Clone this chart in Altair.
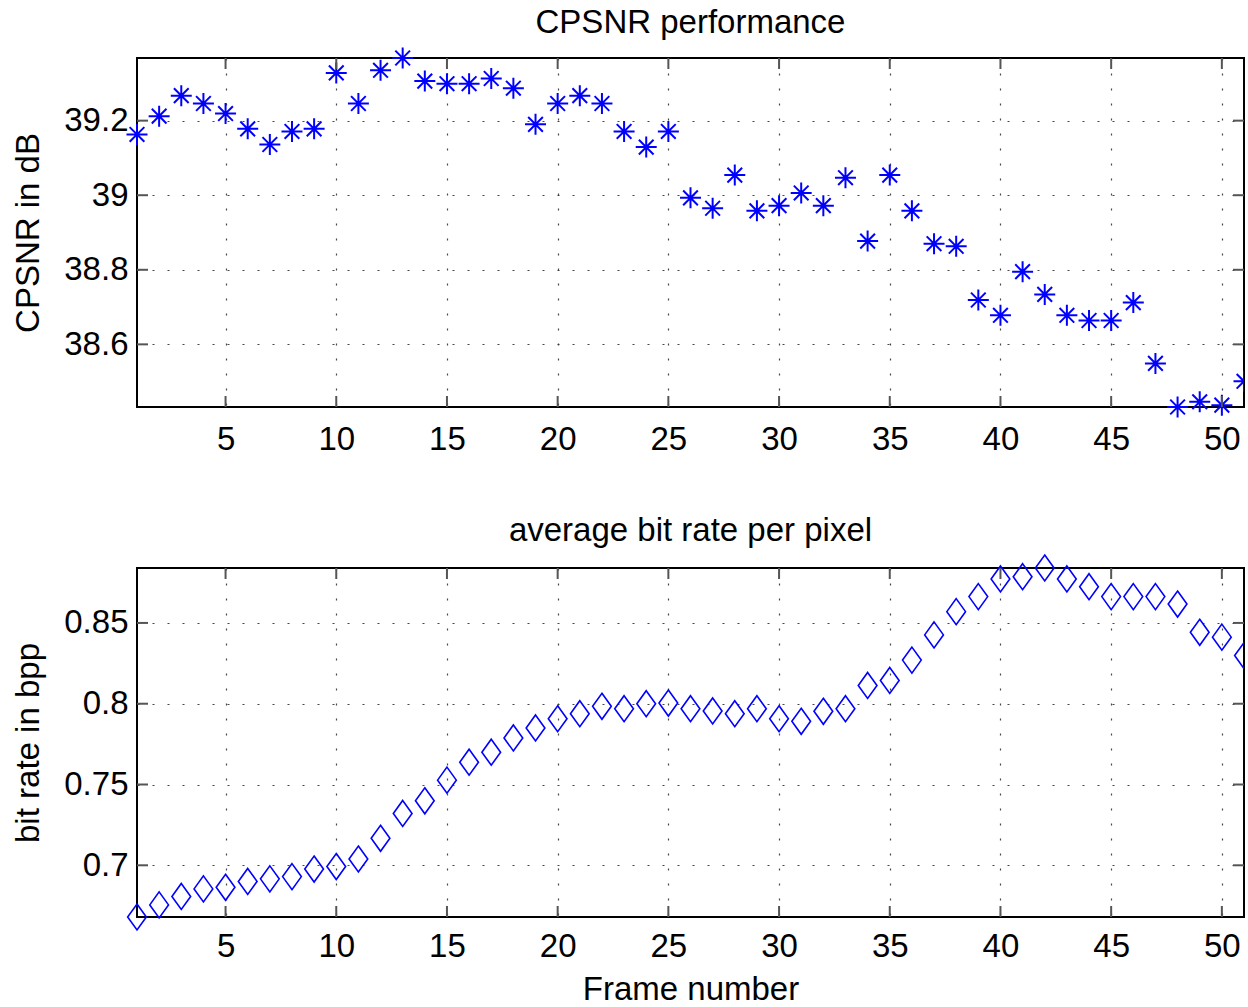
import altair as alt
import pandas as pd

frames = list(range(1, 52))
cpsnr = [39.163, 39.212, 39.267, 39.246, 39.219, 39.178, 39.136, 39.171, 39.178, 39.328,
         39.246, 39.335, 39.368, 39.306, 39.299, 39.299, 39.313, 39.287, 39.190, 39.246,
         39.267, 39.246, 39.171, 39.129, 39.171, 38.993, 38.965, 39.054, 38.958, 38.972,
         39.006, 38.972, 39.047, 38.877, 39.054, 38.958, 38.870, 38.863, 38.719, 38.678,
         38.795, 38.734, 38.678, 38.664, 38.664, 38.712, 38.549, 38.432, 38.446, 38.437,
         38.501]
bitrate = [0.668, 0.6755, 0.6807, 0.6854, 0.6864, 0.690, 0.6916, 0.693, 0.6977, 0.6992,
           0.7039, 0.7167, 0.7321, 0.7399, 0.7527, 0.7638, 0.770, 0.7788, 0.785, 0.7907,
           0.7938, 0.7984, 0.7969, 0.800, 0.8004, 0.7969, 0.7955, 0.7938, 0.7969, 0.7907,
           0.7891, 0.7953, 0.7969, 0.8113, 0.8144, 0.827, 0.8426, 0.857, 0.8663, 0.8772,
           0.8786, 0.884, 0.8772, 0.8724, 0.8663, 0.8663, 0.8663, 0.8617, 0.8442, 0.8412,
           0.8298]
x_ticks = [5, 10, 15, 20, 25, 30, 35, 40, 45, 50]
cpsnr_ticks = [38.6, 38.8, 39.0, 39.2]
bitrate_ticks = [0.7, 0.75, 0.8, 0.85]

W, H = 1107, 349
FONT = "Liberation Sans"
FS = 33
TICKLEN = 11
TICKCOL = "#555555"
BLUE = "#0000ff"
ASTERISK = "M-1,0L1,0M0,-1L0,1M-0.7,-0.7L0.7,0.7M-0.7,0.7L0.7,-0.7"
DIAMOND = "M0,-1L0.72,0L0,1L-0.72,0Z"

df = pd.DataFrame({"frame": frames, "cpsnr": cpsnr, "bitrate": bitrate})
xdf = pd.DataFrame({"v": x_ticks})
last_frame = frames[-1]

xscale = alt.Scale(domain=[frames[0], last_frame], nice=False, zero=False)


def panel(field, ticks, shape, size, sw, title, ytitle, xtitle, xlabpad):
    yscale = alt.Scale(domain=[min(df[field]), max(df[field])], nice=False, zero=False)
    xaxis = alt.Axis(values=x_ticks, title=xtitle, grid=True, labelPadding=xlabpad,
                     titlePadding=10)
    yaxis = alt.Axis(values=ticks, title=ytitle, grid=True, format="~g",
                     labelPadding=9, titlePadding=18)
    ydf = pd.DataFrame({"v": ticks})
    enc = dict(
        x=alt.X("frame:Q", scale=xscale, axis=xaxis),
        y=alt.Y(f"{field}:Q", scale=yscale, axis=yaxis),
    )
    pts = alt.Chart(df).transform_filter(f"datum.frame < {last_frame}").mark_point(
        shape=shape, size=size, filled=False, stroke=BLUE, strokeWidth=sw, opacity=1
    ).encode(**enc)
    pts_edge = alt.Chart(df).transform_filter(f"datum.frame >= {last_frame}").mark_point(
        shape=shape, size=size, filled=False, stroke=BLUE, strokeWidth=sw, opacity=1, clip=True
    ).encode(**enc)
    xt_top = alt.Chart(xdf).mark_rule(color=TICKCOL, strokeWidth=2).encode(
        x=alt.X("v:Q", scale=xscale, axis=xaxis), y=alt.value(0), y2=alt.value(TICKLEN))
    xt_bot = alt.Chart(xdf).mark_rule(color=TICKCOL, strokeWidth=2).encode(
        x=alt.X("v:Q", scale=xscale, axis=xaxis), y=alt.value(H - TICKLEN), y2=alt.value(H))
    yt_l = alt.Chart(ydf).mark_rule(color=TICKCOL, strokeWidth=2).encode(
        y=alt.Y("v:Q", scale=yscale, axis=yaxis), x=alt.value(0), x2=alt.value(TICKLEN))
    yt_r = alt.Chart(ydf).mark_rule(color=TICKCOL, strokeWidth=2).encode(
        y=alt.Y("v:Q", scale=yscale, axis=yaxis), x=alt.value(W - TICKLEN), x2=alt.value(W))
    return alt.layer(pts, pts_edge, xt_top, xt_bot, yt_l, yt_r).properties(
        width=W, height=H,
        title=alt.TitleParams(title, fontSize=FS, font=FONT, fontWeight="normal",
                              anchor="middle", offset=4, color="black"),
    )


top = panel("cpsnr", cpsnr_ticks, ASTERISK, 441, 2, "CPSNR performance", "CPSNR in dB",
            None, 16)
bottom = panel("bitrate", bitrate_ticks, DIAMOND, 676, 1.6, "average bit rate per pixel",
               "bit rate in bpp", "Frame number", 13)

chart = alt.vconcat(top, bottom, spacing=56).properties(
    padding={"left": 11, "top": 5, "right": 2, "bottom": 0},
    background="white",
).configure_view(
    stroke="black", strokeWidth=2
).configure_axis(
    labelFont=FONT, labelFontSize=FS, labelColor="black",
    titleFont=FONT, titleFontSize=FS, titleFontWeight="normal", titleColor="black",
    domain=False, ticks=False,
    gridColor="#333333", gridDash=[2, 13], gridWidth=1.2, gridOpacity=0.9,
)

chart.save("out.html", embed_options={"renderer": "svg", "actions": False})
